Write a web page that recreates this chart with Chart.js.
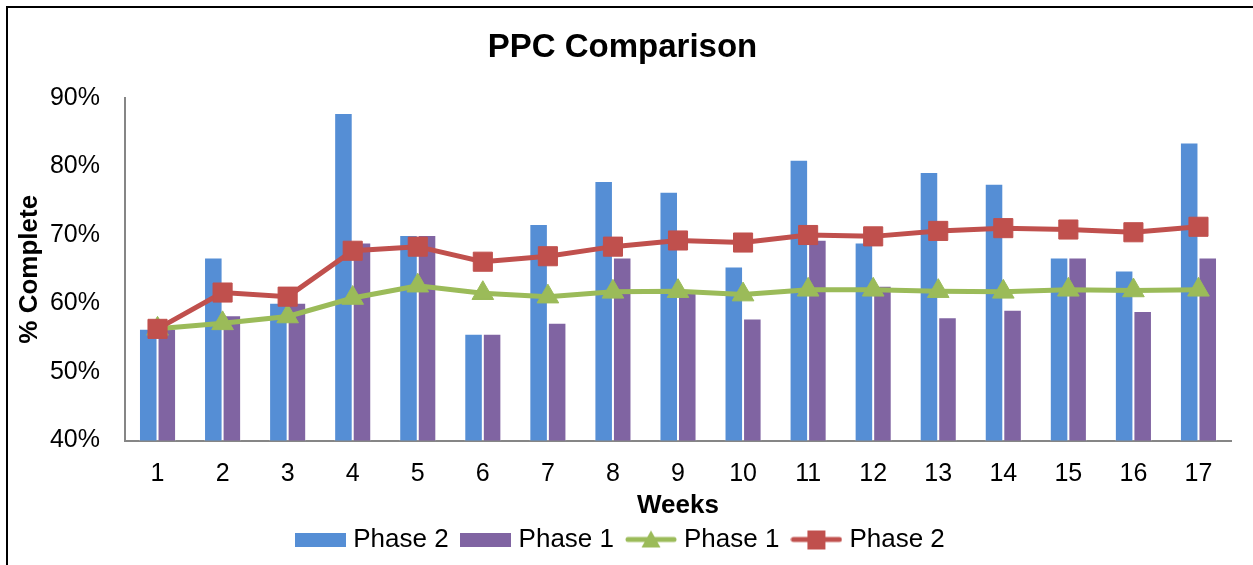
<!DOCTYPE html>
<html>
<head>
<meta charset="utf-8">
<title>PPC Comparison</title>
<script src="https://cdn.jsdelivr.net/npm/chart.js"></script>
<style>
  html, body { margin: 0; padding: 0; background: #fff; }
  #wrap { position: relative; width: 1253px; height: 565px; overflow: hidden; }
  #frame { position: absolute; left: 6px; top: 6px; width: 1300px; height: 620px;
           border-left: 2px solid #000; border-top: 2px solid #000; pointer-events: none; }
  canvas { position: absolute; left: 0; top: 0; }
</style>
</head>
<body>
<div id="wrap">
  <canvas id="chart" width="1253" height="565"></canvas>
  <div id="frame"></div>
</div>
<script>
// Weekly PPC (percent plan complete) values
const weeks = ['1','2','3','4','5','6','7','8','9','10','11','12','13','14','15','16','17'];
const phase2Weekly = [56.3, 66.7, 60.1, 87.8, 70.0, 55.6, 71.6, 77.9, 76.3, 65.4, 81.0, 68.9, 79.2, 77.5, 66.7, 64.8, 83.5];
const phase1Weekly = [56.3, 58.3, 60.1, 68.9, 70.0, 55.6, 57.2, 66.7, 62.0, 57.8, 69.3, 62.6, 58.0, 59.1, 66.7, 58.9, 66.7];
// Running averages
const phase1Average = [56.3, 57.1, 58.1, 60.8, 62.6, 61.5, 61.0, 61.7, 61.8, 61.3, 62.0, 62.0, 61.8, 61.7, 62.0, 61.9, 62.0];
const phase2Average = [56.3, 61.6, 61.0, 67.7, 68.3, 66.1, 66.9, 68.3, 69.2, 68.9, 70.0, 69.8, 70.6, 71.0, 70.8, 70.4, 71.2];
const yTicks = { min: 40, max: 90, step: 10 };

const BLUE = '#558ED5', PURPLE = '#8064A2', GREEN = '#9BBB59', RED = '#C0504D';
const FONT = "'Liberation Sans', Arial, Helvetica, sans-serif";

// Legend swatches: a filled block for the bar series, a line with its marker for the line series
function barSwatch(color) {
  const c = document.createElement('canvas');
  c.width = 51; c.height = 14;
  const g = c.getContext('2d');
  g.fillStyle = color; g.fillRect(0, 0, 51, 14);
  return c;
}
function lineSwatch(color, marker) {
  const c = document.createElement('canvas');
  c.width = 52; c.height = 24;
  const g = c.getContext('2d');
  g.strokeStyle = color; g.lineWidth = 5; g.lineCap = 'round';
  g.beginPath(); g.moveTo(3, 12); g.lineTo(49, 12); g.stroke();
  g.fillStyle = color;
  if (marker === 'triangle') {
    g.beginPath(); g.moveTo(26, 3); g.lineTo(35.5, 20); g.lineTo(16.5, 20); g.closePath(); g.fill();
  } else {
    g.fillRect(17, 3, 18, 19);
  }
  return c;
}
const swatches = [barSwatch(BLUE), barSwatch(PURPLE), lineSwatch(GREEN, 'triangle'), lineSwatch(RED, 'rect')];

const ctx = document.getElementById('chart').getContext('2d');
new Chart(ctx, {
  type: 'bar',
  data: {
    labels: weeks,
    datasets: [
      { type: 'bar', label: 'Phase 2', data: phase2Weekly, backgroundColor: BLUE,
        borderColor: 'rgba(255,255,255,0.35)', borderWidth: 1, order: 2,
        barPercentage: 1.0, categoryPercentage: 0.57 },
      { type: 'bar', label: 'Phase 1', data: phase1Weekly, backgroundColor: PURPLE,
        borderColor: 'rgba(255,255,255,0.35)', borderWidth: 1, order: 3,
        barPercentage: 1.0, categoryPercentage: 0.57 },
      { type: 'line', label: 'Phase 1', data: phase1Average, borderColor: GREEN, backgroundColor: GREEN,
        borderWidth: 5, pointStyle: 'triangle', pointRadius: 12.5, pointBorderWidth: 1,
        pointBackgroundColor: GREEN, pointBorderColor: GREEN, tension: 0, order: 1 },
      { type: 'line', label: 'Phase 2', data: phase2Average, borderColor: RED, backgroundColor: RED,
        borderWidth: 5, pointStyle: 'rect', pointRadius: 13.5, pointBorderWidth: 1,
        pointBackgroundColor: RED, pointBorderColor: RED, tension: 0, order: 0 }
    ]
  },
  options: {
    responsive: false,
    devicePixelRatio: 1,
    animation: false,
    events: [],
    layout: { padding: { left: 14, right: 22, top: 0, bottom: 2.5 } },
    plugins: {
      tooltip: { enabled: false },
      title: {
        display: true, text: 'PPC Comparison', color: '#000',
        font: { family: FONT, size: 33, weight: 'bold', lineHeight: 1.2 },
        padding: { top: 28.2, bottom: 30.2 }
      },
      legend: {
        display: true, position: 'bottom',
        labels: {
          color: '#000',
          font: { family: FONT, size: 26 },
          usePointStyle: true, pointStyleWidth: 40, padding: 17,
          generateLabels: (chart) => chart.data.datasets.map((ds, i) => ({
            text: ds.label, pointStyle: swatches[i], fillStyle: 'transparent',
            strokeStyle: 'transparent', lineWidth: 0, hidden: false, datasetIndex: i
          }))
        }
      }
    },
    scales: {
      x: {
        grid: { display: false, drawTicks: false },
        border: { display: true, color: '#868686', width: 2 },
        ticks: { color: '#000', font: { family: FONT, size: 25 }, padding: 19, maxRotation: 0 },
        title: { display: true, text: 'Weeks', color: '#000',
                 font: { family: FONT, size: 26, weight: 'bold', lineHeight: 1.2 },
                 padding: { top: 0, bottom: -11.6 } },
        afterFit: (scale) => { scale.height = 69; }
      },
      y: {
        min: yTicks.min, max: yTicks.max,
        grid: { display: false, drawTicks: false },
        border: { display: true, color: '#868686', width: 2 },
        ticks: { stepSize: yTicks.step, color: '#000', font: { family: FONT, size: 25 }, padding: 25,
                 callback: (v) => v + '%' },
        title: { display: true, text: '% Complete', color: '#000',
                 font: { family: FONT, size: 26, weight: 'bold', lineHeight: 1.2 },
                 padding: { top: 0, bottom: 0 } },
        afterFit: (scale) => { scale.width = 111; }
      }
    }
  }
});
</script>
</body>
</html>
